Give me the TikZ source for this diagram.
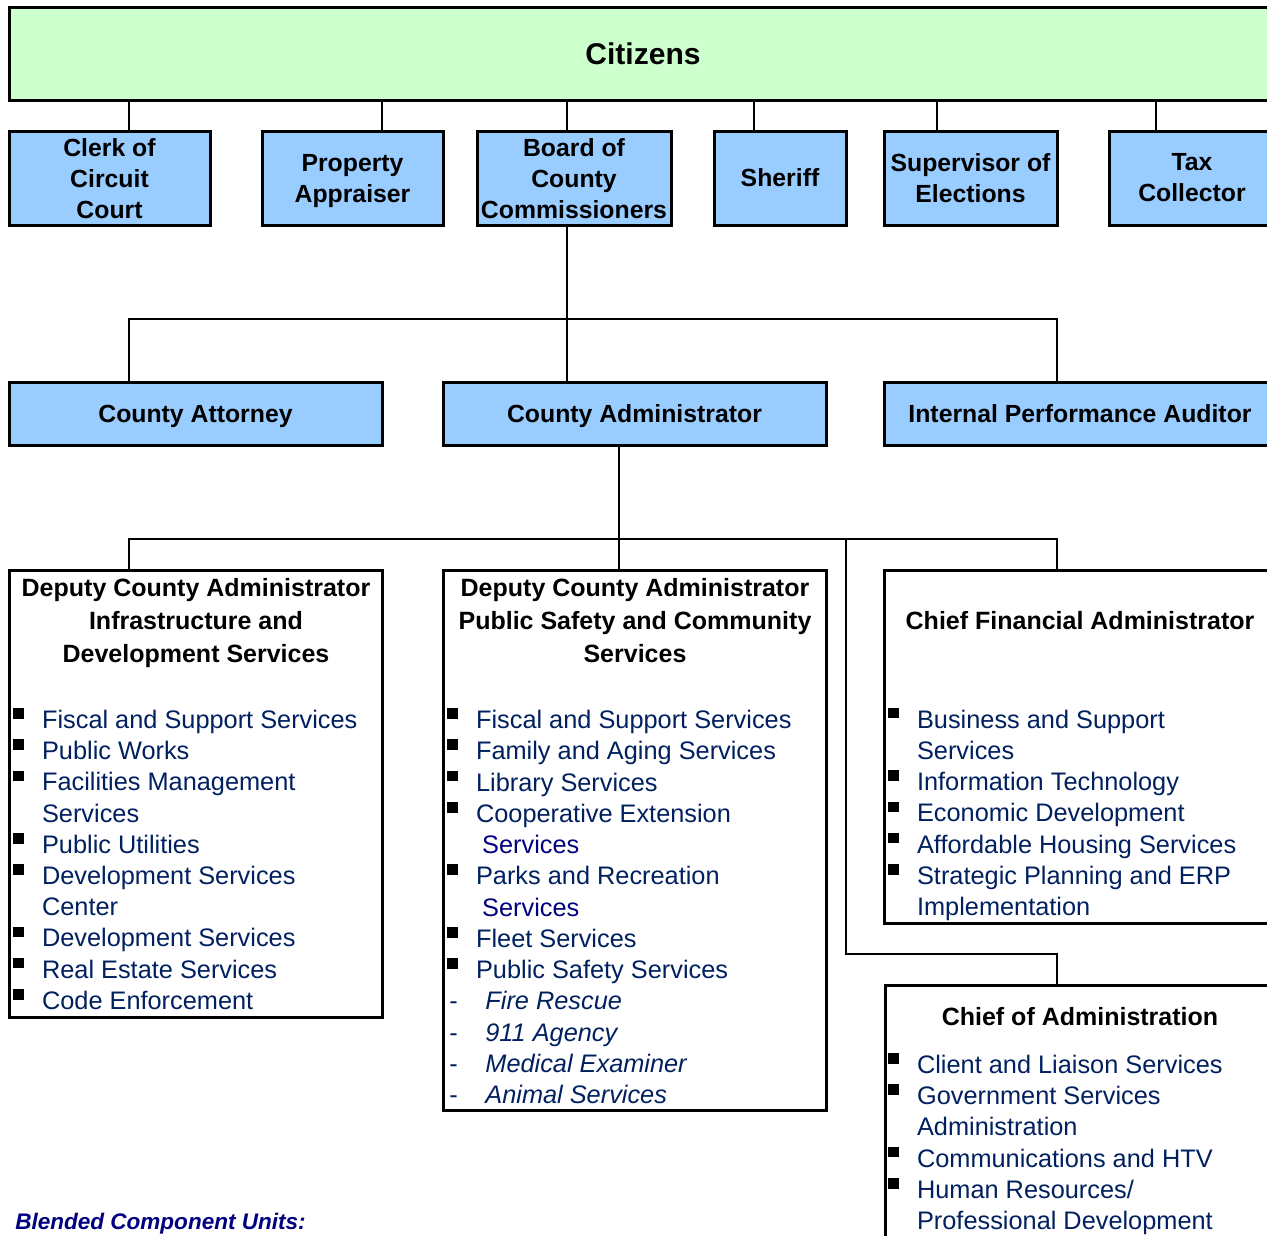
\documentclass[tikz,border=0pt]{standalone}
\usepackage{fontspec}
\setmainfont{Liberation Sans}
\usetikzlibrary{fit}

\definecolor{citgreen}{RGB}{204,255,204}
\definecolor{offblue}{RGB}{153,204,255}
\definecolor{itemblue}{RGB}{0,32,96}
\definecolor{navyblue}{RGB}{0,0,128}

\tikzset{
  box/.style={draw=black, line width=2.25pt, inner sep=0pt},
  topbox/.style={box, fill=offblue},
  listbox/.style={box, fill=white},
  boxtext/.style={inner sep=0pt, align=center, font=\bfseries\fontsize{18.6}{23.25}\selectfont},
  link/.style={line width=2pt},
  head/.style={anchor=base, inner sep=0pt, font=\bfseries\fontsize{18.75}{24.75}\selectfont},
  item/.style={anchor=base west, inner sep=0pt, text=itemblue,
    font=\fontsize{19}{23.4}\selectfont},
}
\newcommand{\bsq}{\makebox[21.6pt][l]{\textcolor{black}{\raisebox{7.3pt}{\rule{7.9pt}{7.9pt}}}}}
\newcommand{\cnt}{\hspace*{21.6pt}}
\newcommand{\cntb}{\hspace*{26.2pt}\color{navyblue}}
\newcommand{\dsh}{\makebox[28.6pt][l]{\hspace*{1.5pt}-}\itshape}

\begin{document}
\begin{tikzpicture}[x=0.75pt,y=0.75pt,yscale=-1,xscale=1]
\useasboundingbox (0,0) rectangle (1267,1235);
\clip (0,0) rectangle (1267,1235);
%Citizens
\node[box, fill=citgreen, fit={(9,7) (1277,100)}] (citizens) {};
\node[boxtext, font=\bfseries\fontsize{22.5}{27}\selectfont] (citizenst) at (citizens.center) {Citizens};
%Elected offices
\node[topbox, fit={(9,131) (210,225)}] (clerk) {};
\node[topbox, fit={(262,131) (443,225)}] (appraiser) {};
\node[topbox, fit={(477,131) (671,225)}] (board) {};
\node[topbox, fit={(714,131) (846,225)}] (sheriff) {};
\node[topbox, fit={(884,131) (1057,225)}] (elections) {};
\node[topbox, fit={(1109,131) (1275,225)}] (taxcoll) {};
\node[boxtext] (clerkt) at ([yshift=0.75pt]clerk.center) {Clerk of\\Circuit\\Court};
\node[boxtext] (appraisert) at ([yshift=2.25pt]appraiser.center) {Property\\Appraiser};
\node[boxtext] (boardt) at ([yshift=0.75pt]board.center) {Board of\\County\\Commissioners};
\node[boxtext] (sherifft) at (sheriff.center) {Sheriff};
\node[boxtext] (electionst) at (elections.center) {Supervisor of\\Elections};
\node[boxtext] (taxcollt) at (taxcoll.center) {Tax\\Collector};
\foreach \nd/\xx in {clerk/129, appraiser/382, board/567, sheriff/754, elections/937, taxcoll/1156}
  \draw[link] (citizens.south -| \xx,0) -- (\nd.north -| \xx,0);

%Appointed by the board
\node[topbox, fit={(9,382) (382,445)}] (attorney) {};
\node[topbox, fit={(443,382) (826,445)}] (admin) {};
\node[topbox, fit={(884,382) (1276,445)}] (auditor) {};
\node[boxtext, text depth=0pt] (attorneyt) at (attorney.center) {County Attorney};
\node[boxtext, text depth=0pt] (admint) at (admin.center) {County Administrator};
\node[boxtext, text depth=0pt] (auditort) at (auditor.center) {Internal Performance Auditor};
\coordinate (bcc) at (567,319);
\draw[link] (board.south -| bcc) -- (admin.north -| bcc);
\draw[link] (attorney.north -| 129,0) |- (bcc) -| (auditor.north -| 1057,0);

%Deputies and chiefs
\node[listbox, fit={(9,570) (382,1017)}] (idsbox) {};
\node[listbox, fit={(443,570) (826,1110)}] (pscbox) {};
\node[listbox, fit={(884,570) (1280,923)}] (cfabox) {};
\node[listbox, fit={(885,985) (1280,1260)}] (coabox) {};
\coordinate (cda) at (619,539);
\coordinate (cfo) at (846,539);
\draw[link] (admin.south -| cda) -- (pscbox.north -| cda);
\draw[link] (idsbox.north -| 129,0) |- (cda) -| (cfabox.north -| 1057,0);
\draw[link] (cfo) -- (846,954) -| (coabox.north -| 1057,0);

%Infrastructure and Development Services
\foreach \txt [count=\i from 0] in {Deputy County Administrator, Infrastructure and, Development Services}
  \node[head] (idsh\i) at (196,596.5+32.9*\i) {\txt};
\foreach \txt [count=\i from 0] in {{\bsq Fiscal and Support Services}, {\bsq Public Works},
    {\bsq Facilities Management}, {\cnt Services}, {\bsq Public Utilities},
    {\bsq Development Services}, {\cnt Center}, {\bsq Development Services},
    {\bsq Real Estate Services}, {\bsq Code Enforcement}}
  \node[item] (ids\i) at (13,728.5+31.2*\i) {\txt};

%Public Safety and Community Services
\foreach \txt [count=\i from 0] in {Deputy County Administrator, Public Safety and Community, Services}
  \node[head] (psch\i) at (635,596.5+32.9*\i) {\txt};
\foreach \txt [count=\i from 0] in {{\bsq Fiscal and Support Services}, {\bsq Family and Aging Services},
    {\bsq Library Services}, {\bsq Cooperative Extension}, {\cntb Services},
    {\bsq Parks and Recreation}, {\cntb Services}, {\bsq Fleet Services},
    {\bsq Public Safety Services}, {\dsh Fire Rescue}, {\dsh 911 Agency},
    {\dsh Medical Examiner}, {\dsh Animal Services}}
  \node[item] (psc\i) at (447,728.5+31.25*\i) {\txt};

%Chief Financial Administrator
\node[head] (cfah) at (1080,629.8) {Chief Financial Administrator};
\foreach \txt [count=\i from 0] in {{\bsq Business and Support}, {\cnt Services},
    {\bsq Information Technology}, {\bsq Economic Development},
    {\bsq Affordable Housing Services}, {\bsq Strategic Planning and ERP},
    {\cnt Implementation}}
  \node[item] (cfa\i) at (888,728+31.3*\i) {\txt};

%Chief of Administration
\node[head] (coah) at (1080,1025) {Chief of Administration};
\foreach \txt [count=\i from 0] in {{\bsq Client and Liaison Services}, {\bsq Government Services},
    {\cnt Administration}, {\bsq Communications and HTV}, {\bsq Human Resources/},
    {\cnt Professional Development}}
  \node[item] (coa\i) at (888,1073.5+31.2*\i) {\txt};

%Blended component units
\node[anchor=base west, inner sep=0pt, text=navyblue, font=\bfseries\itshape\fontsize{16.9}{20}\selectfont] (bcu) at (15,1229) {Blended Component Units:};
\end{tikzpicture}
\end{document}
